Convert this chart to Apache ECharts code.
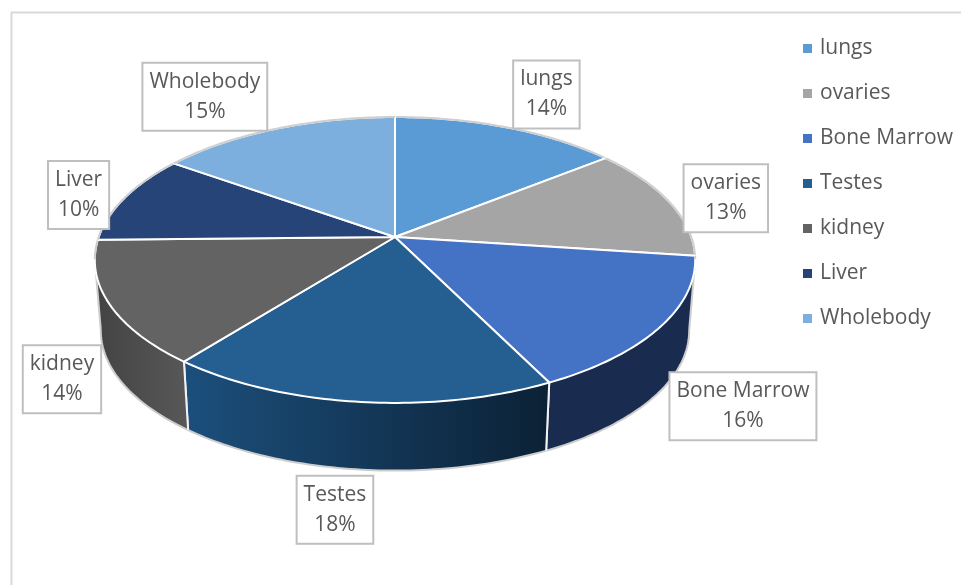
<!DOCTYPE html>
<html><head><meta charset="utf-8">
<style>html,body{margin:0;padding:0;background:#fff}#c{width:961px;height:585px}</style>
<script src="https://cdn.jsdelivr.net/npm/echarts@6/dist/echarts.min.js"></script>
</head><body><div id="c"></div>
<script>
const categories = ['lungs','ovaries','Bone Marrow','Testes','kidney','Liver','Wholebody'];
const percents = [14.3,12.8,15.55,18.05,14.0,10.1,15.2];
const topColors = ['#5B9BD5','#A5A5A5','#4472C4','#255E91','#636363','#264478','#7CAFDD'];
const wallFrom = ['#3a6690','#6a6a6a','#1a2b50','#1c4f7c','#434343','#182c4e','#4a7aa5'];
const wallTo   = ['#3a6690','#6a6a6a','#1a2b50','#0b2135','#585858','#182c4e','#4a7aa5'];
// label box centre, as offset from the slice's rim mid-point
const labelDx = [39,57,82,-23,-47,-46,-71];
const labelDy = [-33,-3,80,108,76,-3,-32];

const FONT = '"Open Sans","Noto Sans",sans-serif';
const TEXT = '#595959';
const CX = 395, CY = 237, FX = 1843, FY = 866, DIST = 6.22;
const WALL_SCALE = 0.98, WALL_CY = 308;
const SIL_R = 99, SIL_L = 261;
const total = percents.reduce((a,b)=>a+b,0);
const starts = []; { let c = 0; percents.forEach(v=>{starts.push(c); c+=v;}); }

function angle(cum){ return cum/total*360; }
function rim(deg){
  const t = deg*Math.PI/180, X = Math.sin(t), Y = Math.cos(t), D = DIST+Y;
  return [CX+FX*X/D, CY-FY*Y/D];
}
function lower(p){ return [CX+(p[0]-CX)*WALL_SCALE, WALL_CY+(p[1]-CY)*WALL_SCALE]; }
function arc(a0,a1){ const pts=[]; const n=Math.max(2,Math.ceil(Math.abs(a1-a0)));
  for(let i=0;i<=n;i++) pts.push(rim(a0+(a1-a0)*i/n)); return pts; }
function slice(i){ const a0=angle(starts[i]); return [a0,a0+angle(percents[i])]; }

function renderTop(i){
  return function(params,api){
    const a0=slice(i)[0];
    const a1v=a0+angle(api.value(0));
    const pts=[[CX,CY]].concat(arc(a0,a1v));
    const children=[{type:'polygon',shape:{points:pts},
      style:{fill:topColors[i],stroke:'#fff',lineWidth:2,lineJoin:'round'}}];
    const backA=Math.max(a0,SIL_L), backB=a1v;
    if(backB>backA) children.push({type:'polyline',shape:{points:arc(backA,backB)},style:{fill:null,stroke:'#cfcfcf',lineWidth:2}});
    const fB=Math.min(a1v,SIL_R);
    if(fB>a0) children.push({type:'polyline',shape:{points:arc(a0,fB)},style:{fill:null,stroke:'#cfcfcf',lineWidth:2}});
    return {type:'group',children};
  };
}
function renderWall(params,api){
  const i=params.dataIndex; const [a0,a1]=slice(i);
  const A=Math.max(a0,SIL_R), B=Math.min(a1,SIL_L);
  if(B<=A) return {type:'group',children:[]};
  const up=arc(A,B), lo=up.map(lower);
  const xs=up.concat(lo).map(p=>p[0]);
  const x0=Math.min.apply(null,xs), x1=Math.max.apply(null,xs);
  const children=[{type:'polygon',shape:{points:up.concat(lo.slice().reverse())},
    style:{fill:new echarts.graphic.LinearGradient(x0,0,x1,0,[
      {offset:0,color:wallFrom[i]},{offset:1,color:wallTo[i]}],true)}},
    {type:'polyline',shape:{points:lo},style:{fill:null,stroke:'#cdcdcd',lineWidth:2}},
    {type:'line',shape:{x1:up[up.length-1][0],y1:up[up.length-1][1],x2:lo[lo.length-1][0],y2:lo[lo.length-1][1]},
      style:{stroke:B===SIL_L?'#cdcdcd':'#f2f2f2',lineWidth:2}},
    {type:'line',shape:{x1:up[0][0],y1:up[0][1],x2:lo[0][0],y2:lo[0][1]},
      style:{stroke:A===SIL_R?'#cdcdcd':'#f2f2f2',lineWidth:2}}];
  return {type:'group',children};
}
function renderLabel(params,api){
  const i=params.dataIndex; const [a0,a1]=slice(i);
  const m=rim((a0+a1)/2);
  return {type:'text',x:m[0]+labelDx[i],y:m[1]+labelDy[i],
    style:{text:categories[i]+'\n'+Math.round(api.value(0)/total*100)+'%',
      font:'21px '+FONT,fill:TEXT,align:'center',verticalAlign:'middle',lineHeight:30,
      backgroundColor:'#fff',borderColor:'#bfbfbf',borderWidth:2,padding:[4,6,2,6]}};
}

const series=[{type:'custom',name:'walls',coordinateSystem:'none',z:1,silent:true,animation:false,
  data:percents.map(v=>[v]),renderItem:renderWall}];
categories.forEach((c,i)=>series.push({type:'custom',name:c,coordinateSystem:'none',z:2,animation:false,
  itemStyle:{color:topColors[i]},data:[[percents[i]]],renderItem:renderTop(i)}));
series.push({type:'custom',name:'labels',coordinateSystem:'none',z:3,silent:true,animation:false,
  data:percents.map(v=>[v]),renderItem:renderLabel});

const chart=echarts.init(document.getElementById('c'),null,{renderer:'canvas'});
chart.setOption({
  animation:false,backgroundColor:'#fff',
  legend:{data:categories,orient:'vertical',left:803,top:38,padding:0,icon:'rect',itemWidth:9,itemHeight:9,itemGap:24,
    itemStyle:{borderWidth:0},selectedMode:false,
    textStyle:{fontFamily:FONT,fontSize:21,color:TEXT,lineHeight:20,padding:[0,0,0,3]}},
  graphic:[
    {type:'polyline',silent:true,shape:{points:[[11.5,585],[11.5,12.5],[961,12.5]]},style:{fill:null,stroke:'#d9d9d9',lineWidth:2}}
  ],
  series
});
</script></body></html>
